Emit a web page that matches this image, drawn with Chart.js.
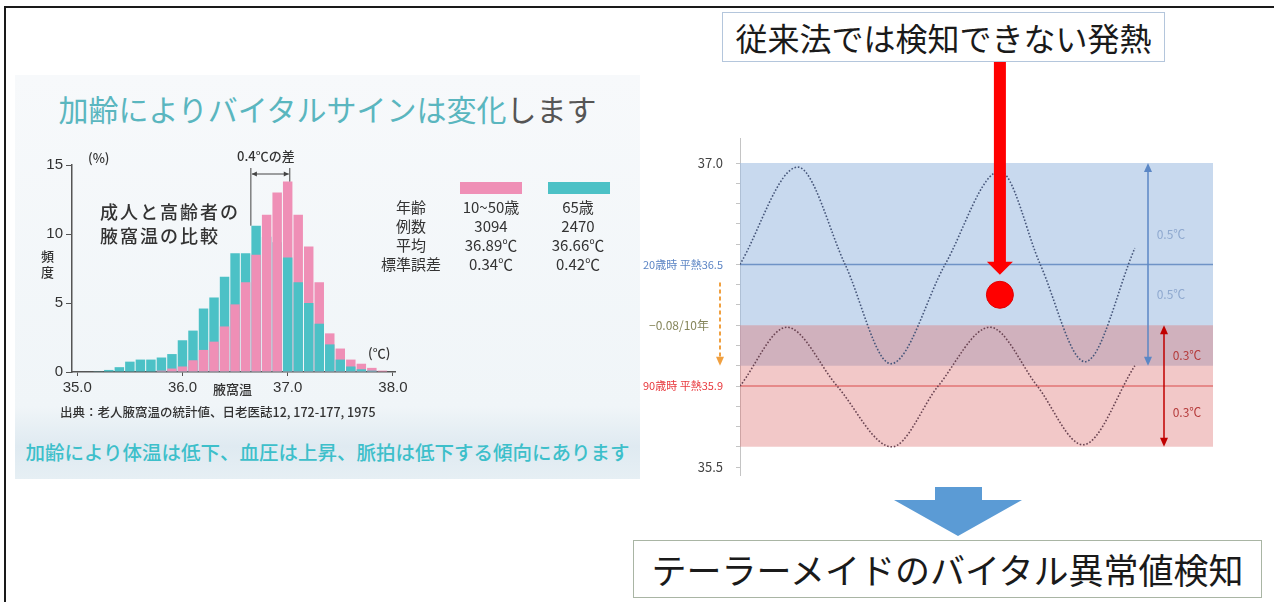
<!DOCTYPE html>
<html lang="ja">
<head>
<meta charset="utf-8">
<title>加齢とバイタルサイン</title>
<script src="https://cdn.jsdelivr.net/npm/chart.js@4.4.1/dist/chart.umd.min.js"></script>
<style>
  html, body { margin: 0; padding: 0; }
  body { width: 1274px; height: 602px; position: relative; overflow: hidden; background: #fff;
         font-family: "Noto Sans CJK JP", "Noto Sans", sans-serif; color: #333; }
  .abs { position: absolute; white-space: nowrap; }
  #frame { left: 4px; top: 6px; width: 1290px; height: 620px; border-top: 2px solid #1a1a1a; border-left: 2px solid #1a1a1a; }
  #panel { left: 15px; top: 75px; width: 625px; height: 404px;
           background: linear-gradient(180deg, #f7f9fb 0%, #f0f5f8 82%, #dfeaf1 92%, #e6eff4 100%); }
  #title { left: 15px; top: 88px; width: 625px; text-align: center; font-size: 30px; line-height: 40px; color: #5ab6bf; }
  #title span { color: #555; }
  .note { font-size: 18px; line-height: 24px; letter-spacing: 2px; color: #333; font-weight: 500; }
  .small { font-size: 13px; color: #333; font-weight: 500; }
  .tbl { font-size: 15px; color: #333; text-align: center; transform: translate(-50%, -50%); }
  #banner { left: 20px; top: 438px; width: 615px; text-align: center; font-size: 19.5px; line-height: 28px; color: #3dbfca; font-weight: 500; }
  #topbox { left: 722px; top: 12px; width: 441px; height: 48px; border: 1px solid #b4c6dc; background: #fff;
            font-size: 32px; line-height: 48px; text-align: center; color: #1a1a1a; }
  #bottombox { left: 633px; top: 540px; width: 627px; height: 56px; border: 1px solid #a9b5a4; background: #fff;
               font-size: 35px; line-height: 56px; text-align: center; color: #1a1a1a; }
</style>
</head>
<body>
<div id="frame" class="abs"></div>
<div id="panel" class="abs"></div>
<div id="title" class="abs">加齢によりバイタルサインは変化<span>します</span></div>

<div class="abs" style="left:0;top:140px;width:420px;height:270px;">
  <canvas id="histChart" width="420" height="270"></canvas>
</div>
<div class="abs small" style="left:88px;top:148px;">(%)</div>
<div class="abs small" style="left:41px;top:248px;line-height:16px;">頻<br>度</div>
<div class="abs note" style="left:100px;top:199px;">成人と高齢者の<br>腋窩温の比較</div>
<div class="abs small" style="left:237px;top:146px;">0.4℃の差</div>
<div class="abs small" style="left:213px;top:379px;">腋窩温</div>
<div class="abs small" style="left:368px;top:343px;">(℃)</div>
<div class="abs small" style="left:60px;top:402px;font-size:12.5px;">出典：老人腋窩温の統計値、日老医誌12, 172-177, 1975</div>

<div class="abs" style="left:460px;top:182px;width:62px;height:12px;background:#ef8fb6;"></div>
<div class="abs" style="left:548px;top:182px;width:62px;height:12px;background:#4cc1c6;"></div>
<div id="table"></div>

<div id="banner" class="abs">加齢により体温は低下、血圧は上昇、脈拍は低下する傾向にあります</div>

<div class="abs" style="left:640px;top:0;width:634px;height:500px;">
  <canvas id="waveChart" width="634" height="500"></canvas>
</div>
<div id="topbox" class="abs">従来法では検知できない発熱</div>
<svg class="abs" style="left:880px;top:484px;" width="160" height="56">
  <polygon points="55,3 102,3 102,16 142,16 78,52 14,16 55,16" fill="#5b9bd5"/>
</svg>
<div id="bottombox" class="abs">テーラーメイドのバイタル異常値検知</div>

<script>
// ---- left: 腋窩温ヒストグラム (0.1℃刻み, 頻度%) ----
const binTemps   = [35.2, 35.3, 35.4, 35.5, 35.6, 35.7, 35.8, 35.9, 36.0, 36.1, 36.2, 36.3, 36.4, 36.5,
                    36.6, 36.7, 36.8, 36.9, 37.0, 37.1, 37.2, 37.3, 37.4, 37.5, 37.6, 37.7, 37.8, 37.9];
const adultPct   = [0, 0, 0, 0, 0, 0, 0.1, 0.25, 0.4, 0.85, 1.6, 2.2, 3.3, 4.9,
                    6.5, 8.5, 11.4, 13.0, 13.8, 11.4, 9.1, 6.5, 2.8, 1.7, 0.9, 0.6, 0.3, 0.1];
const elderlyPct = [0.05, 0.15, 0.35, 0.75, 0.9, 0.9, 1.05, 1.3, 2.3, 3.0, 4.6, 5.4, 6.9, 8.6,
                    8.6, 10.6, 9.8, 9.4, 8.3, 6.5, 5.0, 3.5, 2.0, 0.9, 0.4, 0.2, 0.1, 0];

const tableRows = [
  ['年齢', '10~50歳', '65歳'],
  ['例数', '3094', '2470'],
  ['平均', '36.89℃', '36.66℃'],
  ['標準誤差', '0.34℃', '0.42℃']
];
const histTicks = [35, 36, 37, 38];

const pink = '#ef8fb6', teal = '#4cc1c6';

// table as text
const table = document.getElementById('table');
const rowY = [206, 225, 244, 263], colX = [411, 491, 578];
tableRows.forEach((row, r) => row.forEach((txt, c) => {
  const d = document.createElement('div');
  d.className = 'abs tbl';
  d.style.left = colX[c] + 'px';
  d.style.top = rowY[r] + 'px';
  d.textContent = txt;
  table.appendChild(d);
}));

// the taller bar sits behind; adults drawn in front up to the peak
const adultFront = binTemps.map(t => t < 36.95);
const frontBars = binTemps.map((t, i) => ({x: t, y: adultFront[i] ? adultPct[i] : elderlyPct[i]}));
const backBars  = binTemps.map((t, i) => ({x: t, y: adultFront[i] ? elderlyPct[i] : adultPct[i]}));

const diffMarker = {
  id: 'diffMarker',
  afterDatasetsDraw(chart) {
    const {ctx, scales: {x, y}} = chart;
    const iT = elderlyPct.indexOf(Math.max(...elderlyPct));
    const iA = adultPct.indexOf(Math.max(...adultPct));
    const x1 = x.getPixelForValue(binTemps[iT] - 0.05);
    const x2 = x.getPixelForValue(binTemps[iA] + 0.02);
    const top = y.top + 3;
    ctx.save();
    ctx.strokeStyle = '#444';
    ctx.fillStyle = '#444';
    ctx.lineWidth = 1;
    ctx.beginPath();
    ctx.moveTo(x1, top); ctx.lineTo(x1, y.getPixelForValue(elderlyPct[iT]));
    ctx.moveTo(x2, top); ctx.lineTo(x2, y.getPixelForValue(adultPct[iA]));
    ctx.moveTo(x1 + 1, top + 6); ctx.lineTo(x2 - 1, top + 6);
    ctx.stroke();
    ctx.beginPath();
    ctx.moveTo(x1 + 1, top + 6); ctx.lineTo(x1 + 6, top + 3.5); ctx.lineTo(x1 + 6, top + 8.5); ctx.closePath();
    ctx.moveTo(x2 - 1, top + 6); ctx.lineTo(x2 - 6, top + 3.5); ctx.lineTo(x2 - 6, top + 8.5); ctx.closePath();
    ctx.fill();
    ctx.restore();
  }
};

new Chart(document.getElementById('histChart'), {
  type: 'bar',
  data: {
    datasets: [
      {label: 'front', data: frontBars, order: 0, grouped: false,
       backgroundColor: adultFront.map(f => f ? pink : teal)},
      {label: 'back', data: backBars, order: 1, grouped: false,
       backgroundColor: adultFront.map(f => f ? teal : pink)}
    ]
  },
  options: {
    responsive: false,
    animation: false,
    layout: {padding: {left: 20, right: 25, top: 25, bottom: 14}},
    categoryPercentage: 1.0,
    barPercentage: 0.9,
    plugins: {legend: {display: false}, tooltip: {enabled: false}},
    scales: {
      x: {
        type: 'linear', min: 34.95, max: 38.02, offset: false,
        afterBuildTicks: s => { s.ticks = histTicks.map(v => ({value: v})); },
        afterFit: s => { s.height = 24; },
        ticks: {callback: v => Number(v).toFixed(1), color: '#333', padding: 3,
                font: {family: 'Liberation Sans Narrow, Liberation Sans, sans-serif', size: 15}},
        grid: {drawOnChartArea: false, offset: false, tickLength: 4, color: '#555'},
        border: {color: '#555', width: 1.5}
      },
      y: {
        min: 0, max: 15,
        afterFit: s => { s.width = 52; },
        ticks: {stepSize: 5, color: '#333', padding: 3,
                font: {family: 'Liberation Sans Narrow, Liberation Sans, sans-serif', size: 15}},
        grid: {drawOnChartArea: false, tickLength: 6, color: '#555'},
        border: {color: '#555', width: 1.5}
      }
    }
  },
  plugins: [diffMarker]
});

// ---- right: 体温の日内変動イメージ ----
const youngWaveX    = [0, 1.16, 2.11, 3.03, 4.12, 5.22, 6.03, 6.93, 7.93];
const youngWaveTemp = [36.5, 36.98, 36.5, 36.01, 36.5, 36.96, 36.5, 36.02, 36.58];
const oldWaveX      = [0, 0.94, 1.95, 3.05, 3.98, 5.02, 5.97, 6.89, 7.93];
const oldWaveTemp   = [35.9, 36.19, 35.9, 35.6, 35.9, 36.19, 35.9, 35.61, 36.0];
const youngMean = 36.5, oldMean = 35.9;
const youngBand = [36.0, 37.0];
const oldBand   = [35.6, 36.2];
const feverPoint = {x: 5.22, y: 36.35};
const tempTickValues = [35.5, 35.9, 36.5, 37.0];
const tempTickLabels = ['35.5', '90歳時 平熱35.9', '20歳時 平熱36.5', '37.0'];
const tempTickColors = ['#444', '#e8383d', '#5b84c4', '#444'];
const bandHalfLabels = ['0.5℃', '0.3℃'];
const declineLabel = '−0.08/10年';

const xMin = 0, xMax = 9.5;
const tickIndex = v => tempTickValues.findIndex(t => Math.abs(t - v) < 0.001);

function arrowHead(ctx, x, y, dir, w, h) {
  ctx.beginPath();
  ctx.moveTo(x, y);
  ctx.lineTo(x - w, y - dir * h);
  ctx.lineTo(x + w, y - dir * h);
  ctx.closePath();
  ctx.fill();
}

function doubleArrow(ctx, x, y1, y2, color) {
  ctx.strokeStyle = color; ctx.fillStyle = color; ctx.lineWidth = 1.5;
  ctx.beginPath(); ctx.moveTo(x, y1 + 6); ctx.lineTo(x, y2 - 6); ctx.stroke();
  arrowHead(ctx, x, y1, -1, 4, 9);
  arrowHead(ctx, x, y2, 1, 4, 9);
}

const waveNotes = {
  id: 'waveNotes',
  afterDatasetsDraw(chart) {
    const {ctx, scales: {x, y}} = chart;
    ctx.save();
    ctx.font = '12px "Liberation Sans Narrow", "Noto Sans CJK JP", sans-serif';
    ctx.textAlign = 'center';
    ctx.textBaseline = 'middle';

    // range arrows
    const bx = x.right - 65, rx = x.right - 49;
    doubleArrow(ctx, bx, y.getPixelForValue(youngBand[1]), y.getPixelForValue(youngBand[0]), '#5b87c5');
    doubleArrow(ctx, rx, y.getPixelForValue(oldBand[1]), y.getPixelForValue(oldBand[0]), '#c00000');
    ctx.fillStyle = '#8fa9cf';
    ctx.fillText(bandHalfLabels[0], bx + 23, y.getPixelForValue(youngMean + 0.15));
    ctx.fillText(bandHalfLabels[0], bx + 23, y.getPixelForValue(youngMean - 0.15));
    ctx.fillStyle = '#b53a3a';
    ctx.fillText(bandHalfLabels[1], rx + 23, y.getPixelForValue(oldMean + 0.15));
    ctx.fillText(bandHalfLabels[1], rx + 23, y.getPixelForValue(oldMean - 0.13));

    // decline between age groups
    const ox = x.left - 20;
    ctx.strokeStyle = '#f0a040'; ctx.fillStyle = '#f0a040'; ctx.lineWidth = 2;
    ctx.setLineDash([4, 3]);
    ctx.beginPath();
    ctx.moveTo(ox, y.getPixelForValue(youngMean) + 18);
    ctx.lineTo(ox, y.getPixelForValue(youngBand[0]) - 8);
    ctx.stroke();
    ctx.setLineDash([]);
    arrowHead(ctx, ox, y.getPixelForValue(youngBand[0]), 1, 4, 9);
    ctx.fillStyle = '#85855a';
    ctx.fillText(declineLabel, x.left - 61, y.getPixelForValue(oldBand[1]));

    // big red arrow onto the fever point
    const fx = x.getPixelForValue(feverPoint.x);
    const tip = y.getPixelForValue(feverPoint.y) - 20;
    ctx.fillStyle = '#ff0000';
    ctx.fillRect(fx - 6, 62, 12, tip - 62 - 10);
    arrowHead(ctx, fx, tip, 1, 13, 13);
    ctx.restore();
  }
};

const flat = v => [{x: xMin, y: v}, {x: xMax, y: v}];
const tickVal = c => (c && c.tick ? c.tick.value : NaN);

new Chart(document.getElementById('waveChart'), {
  type: 'line',
  data: {
    datasets: [
      {label: '20歳時範囲', data: flat(youngBand[1]), fill: {value: youngBand[0]},
       backgroundColor: 'rgba(160,190,225,0.58)', borderWidth: 0, pointRadius: 0, order: 10},
      {label: '90歳時範囲', data: flat(oldBand[1]), fill: {value: oldBand[0]},
       backgroundColor: 'rgba(222,117,117,0.40)', borderWidth: 0, pointRadius: 0, order: 9},
      {label: '20歳時 平熱', data: flat(youngMean), borderColor: '#6f93c6', borderWidth: 1.5,
       pointRadius: 0, order: 5},
      {label: '90歳時 平熱', data: flat(oldMean), borderColor: '#e27474', borderWidth: 1.5,
       pointRadius: 0, order: 5},
      {label: '20歳時', data: youngWaveX.map((v, i) => ({x: v, y: youngWaveTemp[i]})),
       borderColor: '#46567a', borderWidth: 1.6, borderDash: [1.6, 1.8], pointRadius: 0,
       cubicInterpolationMode: 'monotone', order: 3},
      {label: '90歳時', data: oldWaveX.map((v, i) => ({x: v, y: oldWaveTemp[i]})),
       borderColor: '#6a4452', borderWidth: 1.6, borderDash: [1.6, 1.8], pointRadius: 0,
       cubicInterpolationMode: 'monotone', order: 3},
      {label: '発熱', data: [feverPoint], showLine: false, pointRadius: 13.5,
       pointBackgroundColor: '#ff0000', pointBorderColor: '#e00000', order: 1}
    ]
  },
  options: {
    responsive: false,
    animation: false,
    layout: {padding: {left: 0, right: 61, top: 138.7, bottom: 24.8}},
    plugins: {legend: {display: false}, tooltip: {enabled: false}},
    scales: {
      x: {type: 'linear', min: xMin, max: xMax, display: false},
      y: {
        min: 35.46, max: 37.12,
        afterFit: s => { s.width = 100; },
        afterBuildTicks: s => {
          const t = [];
          for (let v = 35.5; v < 37.05; v += 0.1) t.push({value: Math.round(v * 10) / 10});
          s.ticks = t;
        },
        ticks: {
          padding: 13,
          autoSkip: false,
          callback: v => { const i = tickIndex(v); return i < 0 ? '' : tempTickLabels[i]; },
          color: c => { const i = tickIndex(tickVal(c)); return i < 0 ? '#444' : tempTickColors[i]; },
          font: c => ({family: 'Liberation Sans Narrow, Noto Sans CJK JP, sans-serif',
                       size: tickIndex(tickVal(c)) % 3 === 0 ? 13 : 11})
        },
        grid: {drawOnChartArea: false, tickLength: 4, color: '#c4c4c4'},
        border: {color: '#c4c4c4', width: 1}
      }
    }
  },
  plugins: [waveNotes]
});
</script>
</body>
</html>
